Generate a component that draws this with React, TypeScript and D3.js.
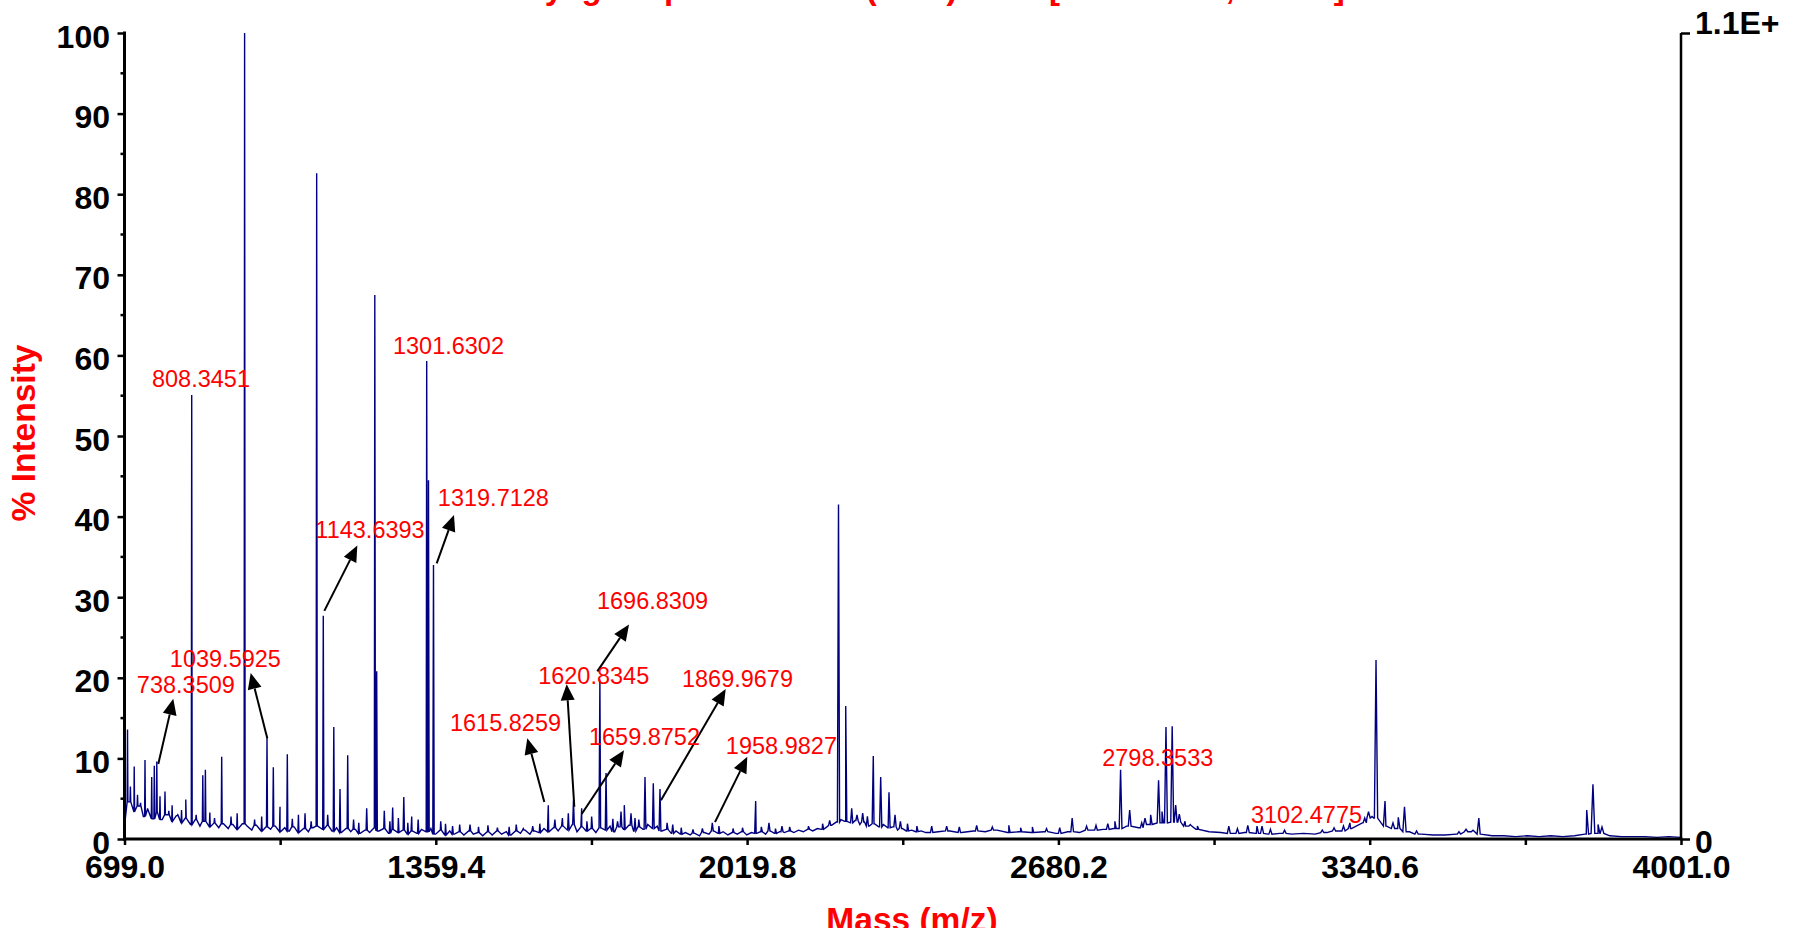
import React, { useEffect, useRef } from 'react';
import * as d3 from 'd3';

const xMajorTicks = [699.0, 1359.4, 2019.8, 2680.2, 3340.6, 4001.0];
const xMinorTicks = [1029.2, 1689.6, 2350.0, 3010.4, 3670.8];
const yMajorTicks = [0, 10, 20, 30, 40, 50, 60, 70, 80, 90, 100];
const yMinorTicks = [5, 15, 25, 35, 45, 55, 65, 75, 85, 95];
const rightTickValues = [0, 100];
const rightTickLabels = ['0', '1.1E+'];

const titleText = 'Voyager Spec #1=>MC (HRP) =>NF[BP = 952.5, 11032]';
const xTitle = 'Mass (m/z)';
const yTitle = '% Intensity';

// baseline noise, every 10 Da from 699 to 2399
const noiseStartLow = 699;
const noiseStepLow = 10;
const noiseLow = [
    1.6, 4.6, 3.4, 4.1, 2.8, 3.6, 2.5, 3.3, 2.4, 3.0,
    2.2, 2.9, 2.0, 2.6, 1.8, 2.4, 1.6, 2.2, 1.5, 2.0,
    1.4, 1.9, 1.3, 1.8, 1.2, 1.9, 1.6, 1.1, 1.7, 1.0,
    1.5, 1.2, 1.6, 0.9, 1.4, 1.0, 1.5, 0.8, 1.3, 0.9,
    1.4, 1.6, 1.2, 1.7, 1.0, 1.4, 0.8, 1.3, 0.9, 1.2,
    0.7, 1.1, 0.8, 1.4, 1.0, 1.3, 0.7, 1.2, 0.8, 1.1,
    0.6, 1.0, 0.7, 1.2, 0.9, 1.3, 0.6, 1.1, 0.5, 1.0,
    0.6, 0.9, 0.5, 1.0, 0.6, 0.8, 0.4, 0.9, 0.5, 1.0,
    0.6, 0.9, 0.5, 1.0, 0.7, 1.1, 0.6, 1.0, 0.8, 1.3,
    0.9, 1.4, 1.0, 1.6, 1.1, 1.8, 0.9, 1.5, 1.0, 1.3,
    0.8, 1.4, 1.1, 1.6, 0.9, 1.5, 1.2, 1.7, 1.0, 1.5,
    1.2, 1.8, 1.3, 1.6, 1.0, 1.2, 0.7, 1.0, 0.6, 0.8,
    0.5, 0.7, 0.4, 0.8, 0.6, 1.0, 0.7, 0.9, 0.5, 0.8,
    0.6, 0.9, 0.5, 0.8, 0.7, 0.9, 0.6, 1.0, 0.7, 0.9,
    0.8, 1.0, 0.8, 1.1, 0.9, 1.2, 1.0, 1.3, 1.2, 1.5,
    1.7, 2.1, 2.4, 2.2, 2.0, 2.3, 1.8, 2.1, 1.6, 1.9,
    1.5, 1.8, 1.4, 1.5, 1.1, 1.3, 1.0, 1.1, 0.9, 1.0,
    0.8
];

// smoother high mass part, every 25 Da from 2425 to 4000
const noiseStartHigh = 2425;
const noiseStepHigh = 25;
const noiseHigh = [
    0.9, 1.0, 0.8, 1.0, 0.9, 1.1, 0.8, 0.9, 0.8, 0.9,
    0.7, 0.9, 0.8, 1.1, 1.2, 1.3, 1.6, 1.4, 1.8, 2.0,
    2.1, 1.6, 1.2, 0.9, 0.8, 0.7, 0.8, 0.7, 0.6, 0.7,
    0.6, 0.7, 0.6, 0.8, 1.0, 1.3, 2.0, 2.6, 1.6, 1.3,
    0.9, 0.6, 0.5, 0.5, 0.6, 0.9, 0.6, 0.4, 0.4, 0.3,
    0.4, 0.3, 0.4, 0.3, 0.4, 0.6, 0.7, 0.4, 0.3, 0.3,
    0.3, 0.2, 0.3, 0.2
];

const peakMz = [
    705.4, 711.5, 719.6, 726.6, 742.5, 756.7, 762.2, 767.5, 774.3, 784.9,
    829.0, 841.6, 865.1, 870.6, 905.2, 953.8, 1001.3, 1014.7, 1028.9, 1044.4,
    1082.0, 1106.7, 1120.7, 1143.0, 1156.2, 1172.5, 1212.8, 1230.0, 1234.0, 1250.1,
    1267.9, 1291.5, 1308.3, 1340.1, 1343.9, 1354.5, 1369.8, 1432.0, 1598.0, 1640.5,
    1651.5, 1668.9, 1707.5, 1720.5, 1752.3, 1759.3, 1773.5, 1803.2, 1820.8, 1835.0,
    1946.0, 2038.0, 2066.2, 2093.8, 2213.7, 2229.0, 2241.7, 2252.9, 2287.5, 2303.2,
    2320.8, 2333.6, 2411.4, 2443.2, 2506.8, 2683.0, 2709.4, 2812.1, 2831.4, 2876.0,
    2892.7, 2908.4, 2921.6, 2936.7, 2948.8, 3041.7, 3082.0, 3101.5, 3112.2, 3298.6,
    3338.1, 3345.5, 3354.0, 3373.1, 3401.3, 3414.4, 3559.7, 3572.1, 3801.0, 3814.2,
    3833.4
];
const peakIntensity = [
    13.6, 6.5, 9.0, 5.5, 9.8, 7.7, 9.1, 9.6, 5.3, 5.9,
    4.9, 55.1, 7.9, 8.6, 10.2, 100, 12.7, 8.9, 4.0, 10.5,
    3.2, 82.6, 27.7, 13.9, 6.2, 10.4, 3.8, 67.5, 20.8, 3.5,
    3.9, 5.2, 2.8, 59.3, 44.5, 34.0, 2.2, 1.8, 4.2, 3.2,
    4.8, 3.8, 19.8, 8.2, 3.4, 4.2, 3.2, 7.7, 6.9, 6.2,
    2.0, 4.7, 2.0, 1.6, 41.5, 16.5, 3.8, 3.0, 10.3, 7.7,
    5.8, 3.0, 1.6, 1.6, 1.7, 1.4, 2.6, 8.6, 3.6, 3.0,
    7.3, 13.9, 14.0, 3.1, 2.2, 1.6, 1.7, 1.6, 1.6, 2.0,
    3.4, 2.8, 22.2, 4.7, 2.7, 4.0, 1.1, 2.6, 3.6, 6.8,
    1.5
];

// small spikes riding on the baseline
const smallPeakMz = [
    733, 748, 793, 800, 812, 820, 851, 880, 890, 925,
    938, 975, 990, 1055, 1068, 1095, 1130, 1185, 1196, 1262,
    1280, 1300, 1322, 1380, 1395, 1410, 1450, 1470, 1490, 1515,
    1530, 1545, 1565, 1580, 1612, 1628, 1680, 1690, 1735, 1745,
    1782, 1790, 1850, 1862, 1880, 1905, 1925, 1960, 1990, 2010,
    2050, 2080, 2110, 2150, 2180, 2195, 2265, 2275, 2345, 2360,
    2380, 2470, 2540, 2575, 2600, 2625, 2655, 2740, 2760, 2785,
    2800, 2857, 2864, 2900, 2929, 2960, 2975, 3060, 3130, 3160,
    3240, 3265, 3285, 3330, 3390, 3440, 3530, 3545, 3825
];
const smallPeakIntensity = [
    4.5, 3.8, 3.5, 4.2, 3.0, 3.6, 3.0, 3.3, 2.6, 2.8,
    3.2, 2.4, 2.8, 2.5, 3.0, 2.2, 3.0, 2.4, 2.0, 2.2,
    2.6, 2.0, 2.4, 1.9, 1.6, 1.8, 1.5, 1.7, 1.4, 1.5,
    1.8, 1.3, 1.6, 1.9, 2.4, 2.6, 2.2, 2.8, 2.5, 2.2,
    2.6, 2.4, 2.0, 1.8, 1.4, 1.2, 1.3, 1.6, 1.3, 1.4,
    1.5, 1.3, 1.5, 1.6, 1.9, 2.3, 3.2, 2.8, 2.2, 1.9,
    1.6, 1.5, 1.5, 1.7, 1.4, 1.5, 1.3, 1.6, 1.7, 1.9,
    2.2, 2.0, 2.6, 3.4, 4.2, 1.8, 1.6, 1.3, 1.2, 1.1,
    1.1, 1.4, 1.6, 2.6, 2.0, 1.0, 0.9, 1.2, 1.8
];

// peak labels: text centred at (mz, intensity) of its baseline
const labelText = [
    '738.3509', '808.3451', '1039.5925', '1143.6393', '1301.6302', '1319.7128', '1615.8259',
    '1620.8345', '1659.8752', '1696.8309', '1869.9679', '1958.9827', '2798.3533', '3102.4775'
];
const labelMz = [829.2, 861.3, 913.0, 1219.8, 1386.3, 1481.6, 1507.3, 1694.4, 1802.1, 1819.1, 1999.4, 2092.6, 2891.0, 3206.5];
const labelIntensity = [18.1, 56.1, 21.3, 37.3, 60.2, 41.3, 13.4, 19.2, 11.7, 28.5, 18.8, 10.6, 9.0, 2.0];

// arrows: [mz, intensity] of tail and tip
const arrowFrom = [
    [770.7, 9.3], [1001.9, 12.5], [1122.9, 28.3], [1361.3, 34.2], [1589.6, 4.6],
    [1653.2, 4.0], [1702.0, 20.8], [1668.9, 3.1], [1837.1, 4.8], [1951.7, 2.1]
];
const arrowTo = [
    [802.5, 17.4], [966.7, 20.6], [1192.9, 36.4], [1398.0, 40.2], [1553.5, 12.5],
    [1637.1, 19.2], [1769.3, 26.6], [1758.7, 11.0], [1974.4, 18.6], [2020.2, 10.2]
];

const FONT = 'Arial, "Liberation Sans", sans-serif';

const App = () => {
    const ref = useRef<SVGSVGElement>(null);

    useEffect(() => {
        const svg = d3.select(ref.current);
        svg.selectAll('*').remove();

        const x = d3.scaleLinear().domain([699, 4001]).range([124.5, 1681]);
        const y = d3.scaleLinear().domain([0, 100]).range([839, 33]);

        // title, mostly cut off by the top edge
        svg.append('text')
            .attr('x', 505).attr('y', -1)
            .attr('font-family', FONT).attr('font-weight', 'bold').attr('font-size', 33)
            .attr('fill', '#ff0000')
            .text(titleText);

        // spectrum trace
        const base: [number, number][] = [];
        noiseLow.forEach((v, i) => base.push([noiseStartLow + i * noiseStepLow, v]));
        noiseHigh.forEach((v, i) => base.push([noiseStartHigh + i * noiseStepHigh, v]));
        const near = d3.bisector((d: [number, number]) => d[0]).center;
        const pts = base.slice();
        const addPeak = (m: number, h: number) => {
            const hw = 0.8 + (m - 699) * 0.001;
            const b = base[near(base, m)][1];
            pts.push([m - hw, b], [m, h], [m + hw, b]);
        };
        peakMz.forEach((m, i) => addPeak(m, peakIntensity[i]));
        smallPeakMz.forEach((m, i) => addPeak(m, smallPeakIntensity[i]));
        pts.sort((a, b) => a[0] - b[0]);

        const line = d3.line<[number, number]>()
            .x(d => x(d[0]))
            .y(d => y(d[1]));

        svg.append('path')
            .attr('d', line(pts))
            .attr('fill', 'none')
            .attr('stroke', '#000080')
            .attr('stroke-width', 1.4);

        // left axis
        const left = svg.append('g')
            .attr('transform', `translate(${x(699)},0)`)
            .call(d3.axisLeft(y).tickValues(yMajorTicks).tickSize(7).tickPadding(7.5).tickSizeOuter(0).tickFormat(d3.format('d')));
        left.select('.domain').remove();
        left.attr('font-family', FONT).attr('font-size', 32).attr('font-weight', 'bold');
        left.selectAll('line').attr('stroke', '#000').attr('stroke-width', 2.5);
        left.selectAll('text').attr('dy', '14px').attr('fill', '#000');
        left.selectAll('.minor')
            .data(yMinorTicks)
            .enter()
            .append('line')
            .attr('x1', -4).attr('x2', 0)
            .attr('y1', d => y(d)).attr('y2', d => y(d))
            .attr('stroke', '#000').attr('stroke-width', 2.5);

        // bottom axis
        const bottom = svg.append('g')
            .attr('transform', `translate(0,${y(0)})`)
            .call(d3.axisBottom(x)
                .tickValues([...xMajorTicks, ...xMinorTicks])
                .tickSize(6).tickPadding(10).tickSizeOuter(0)
                .tickFormat(d => xMajorTicks.includes(+d) ? d3.format('.1f')(+d) : ''));
        bottom.select('.domain').remove();
        bottom.attr('font-family', FONT).attr('font-size', 32).attr('font-weight', 'bold');
        bottom.selectAll('line').attr('stroke', '#000').attr('stroke-width', 2.5);
        bottom.selectAll('text').attr('fill', '#000');

        // right axis
        const right = svg.append('g')
            .attr('transform', `translate(${x(4001)},0)`)
            .call(d3.axisRight(y).tickValues(rightTickValues).tickSize(9).tickPadding(5).tickSizeOuter(0)
                .tickFormat(d => rightTickLabels[rightTickValues.indexOf(+d)]));
        right.select('.domain').remove();
        right.attr('font-family', FONT).attr('font-size', 32).attr('font-weight', 'bold');
        right.selectAll('line').attr('stroke', '#000').attr('stroke-width', 2.5);
        right.selectAll('text')
            .attr('fill', '#000')
            .attr('dy', (d: any) => (+d === 100 ? '0px' : '13px'));

        // axis lines
        svg.append('line')
            .attr('x1', x(699)).attr('x2', x(699)).attr('y1', y(0)).attr('y2', y(100))
            .attr('stroke', '#000').attr('stroke-width', 3).attr('stroke-linecap', 'square');
        svg.append('line')
            .attr('x1', x(699)).attr('x2', x(4001)).attr('y1', y(0)).attr('y2', y(0))
            .attr('stroke', '#000').attr('stroke-width', 3).attr('stroke-linecap', 'square');
        svg.append('line')
            .attr('x1', x(4001)).attr('x2', x(4001)).attr('y1', y(0)).attr('y2', y(100))
            .attr('stroke', '#000').attr('stroke-width', 2.5);

        // axis titles
        svg.append('text')
            .attr('x', 912).attr('y', 931)
            .attr('text-anchor', 'middle')
            .attr('font-family', FONT).attr('font-weight', 'bold').attr('font-size', 33.5)
            .attr('fill', '#ff0000')
            .text(xTitle);
        svg.append('text')
            .attr('transform', 'translate(35,433) rotate(-90)')
            .attr('text-anchor', 'middle')
            .attr('font-family', FONT).attr('font-weight', 'bold').attr('font-size', 33.5)
            .attr('fill', '#ff0000')
            .text(yTitle);

        // arrows
        arrowFrom.forEach((f, i) => {
            const t = arrowTo[i];
            const x1 = x(f[0]), y1 = y(f[1]), x2 = x(t[0]), y2 = y(t[1]);
            const ang = Math.atan2(y2 - y1, x2 - x1);
            const hl = 16, hw = 7;
            const bx = x2 - hl * Math.cos(ang), by = y2 - hl * Math.sin(ang);
            svg.append('line')
                .attr('x1', x1).attr('y1', y1).attr('x2', bx).attr('y2', by)
                .attr('stroke', '#000').attr('stroke-width', 2);
            svg.append('polygon')
                .attr('points', [
                    [x2, y2],
                    [bx + hw * Math.sin(ang), by - hw * Math.cos(ang)],
                    [bx - hw * Math.sin(ang), by + hw * Math.cos(ang)]
                ].map(p => p.join(',')).join(' '))
                .attr('fill', '#000');
        });

        // peak labels
        svg.selectAll('.peakLabel')
            .data(labelText)
            .enter()
            .append('text')
            .attr('x', (d, i) => x(labelMz[i]))
            .attr('y', (d, i) => y(labelIntensity[i]))
            .attr('text-anchor', 'middle')
            .attr('font-family', FONT).attr('font-size', 23.5)
            .attr('fill', '#ff0000')
            .text(d => d);
    }, []);

    return (
        <svg ref={ref} width={1806} height={928}
            style={{ position: 'absolute', left: 0, top: 0, background: '#fff' }} />
    );
};

export default App;
